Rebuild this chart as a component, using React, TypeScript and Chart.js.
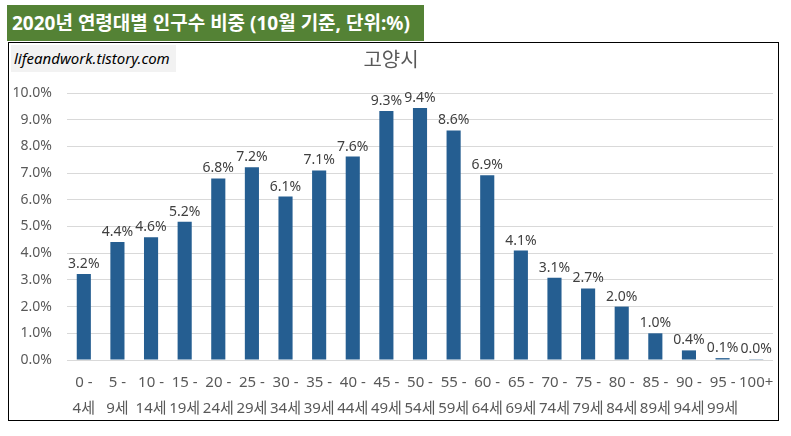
import React, { useEffect, useRef } from "react";
import { Chart, registerables } from "chart.js";

Chart.register(...registerables);

const bannerTitle = "2020년 연령대별 인구수 비중 (10월 기준, 단위:%)";
const chartTitle = "고양시";
const watermark = "lifeandwork.tistory.com";

const categories: string[][] = [
  ["0 -", "4세"], ["5 -", "9세"], ["10 -", "14세"], ["15 -", "19세"],
  ["20 -", "24세"], ["25 -", "29세"], ["30 -", "34세"], ["35 -", "39세"],
  ["40 -", "44세"], ["45 -", "49세"], ["50 -", "54세"], ["55 -", "59세"],
  ["60 -", "64세"], ["65 -", "69세"], ["70 -", "74세"], ["75 -", "79세"],
  ["80 -", "84세"], ["85 -", "89세"], ["90 -", "94세"], ["95 -", "99세"],
  ["100+"],
];

const shares: number[] = [
  3.22, 4.42, 4.6, 5.18, 6.8, 7.22, 6.12, 7.1, 7.62, 9.33, 9.44, 8.6,
  6.92, 4.1, 3.08, 2.68, 2.0, 1.0, 0.36, 0.07, 0.03,
];

const yMin = 0;
const yMax = 10;
const yStep = 1;

const FONT = '"Noto Sans", "Noto Sans CJK KR", sans-serif';

const dataLabelPlugin = {
  id: "dataLabels",
  afterDatasetsDraw(chart: any) {
    const ctx = chart.ctx;
    const meta = chart.getDatasetMeta(0);
    const values = chart.data.datasets[0].data as number[];
    ctx.save();
    ctx.font = `14px ${FONT}`;
    ctx.fillStyle = "#404040";
    ctx.textAlign = "center";
    ctx.textBaseline = "alphabetic";
    meta.data.forEach((bar: any, i: number) => {
      ctx.fillText(values[i].toFixed(1) + "%", bar.x, bar.y - 6);
    });
    ctx.restore();
  },
};

export default function App() {
  const canvasRef = useRef<HTMLCanvasElement | null>(null);

  useEffect(() => {
    if (!canvasRef.current) return;
    const chart = new Chart(canvasRef.current, {
      type: "bar",
      data: {
        labels: categories,
        datasets: [
          {
            data: shares,
            backgroundColor: "#255E91",
            barPercentage: 0.42,
            categoryPercentage: 1,
          },
        ],
      },
      options: {
        responsive: false,
        animation: false,
        layout: { padding: { top: 0, right: 5, bottom: 0, left: 0 } },
        plugins: {
          legend: { display: false },
          tooltip: { enabled: false },
          title: {
            display: true,
            text: chartTitle,
            color: "#595959",
            font: { family: FONT, size: 20, weight: "normal" },
            padding: { top: 6, bottom: 20 },
          },
        },
        scales: {
          x: {
            grid: { display: false },
            border: { display: false },
            ticks: {
              color: "#595959",
              font: { family: FONT, size: 15, lineHeight: 1.73 },
              autoSkip: false,
              maxRotation: 0,
              minRotation: 0,
              padding: 2,
            },
            afterFit(scale: any) {
              scale.height = 60;
            },
          },
          y: {
            min: yMin,
            max: yMax,
            grid: { color: "#d9d9d9", drawTicks: false, lineWidth: 1 },
            border: { display: false },
            ticks: {
              stepSize: yStep,
              color: "#595959",
              font: { family: FONT, size: 14 },
              padding: 15,
              callback: (v: any) => Number(v).toFixed(1) + "%",
            },
            afterFit(scale: any) {
              scale.width = 58;
            },
          },
        },
      },
      plugins: [dataLabelPlugin],
    });
    return () => chart.destroy();
  }, []);

  return (
    <div style={{ position: "absolute", left: 0, top: 0, width: 791, height: 436, background: "#fff" }}>
      <div
        style={{
          position: "absolute",
          left: 7,
          top: 5,
          width: 417,
          height: 36,
          background: "#548235",
          color: "#fff",
          fontFamily: FONT,
          fontWeight: "bold",
          fontSize: 19,
          lineHeight: "36px",
          paddingLeft: 5,
          boxSizing: "border-box",
          whiteSpace: "nowrap",
        }}
      >
        {bannerTitle}
      </div>
      <div
        style={{
          position: "absolute",
          left: 8,
          top: 42,
          width: 771,
          height: 379,
          border: "1px solid #000",
          boxSizing: "border-box",
        }}
      >
        <canvas ref={canvasRef} width={769} height={377} style={{ display: "block" }} />
        <div
          style={{
            position: "absolute",
            left: 2,
            top: 2,
            width: 165,
            height: 27,
            background: "#f2f2f2",
            fontFamily: FONT,
            fontStyle: "italic",
            fontSize: 15,
            lineHeight: "27px",
            color: "#000",
            paddingLeft: 3,
            boxSizing: "border-box",
            whiteSpace: "nowrap",
          }}
        >
          {watermark}
        </div>
      </div>
    </div>
  );
}
